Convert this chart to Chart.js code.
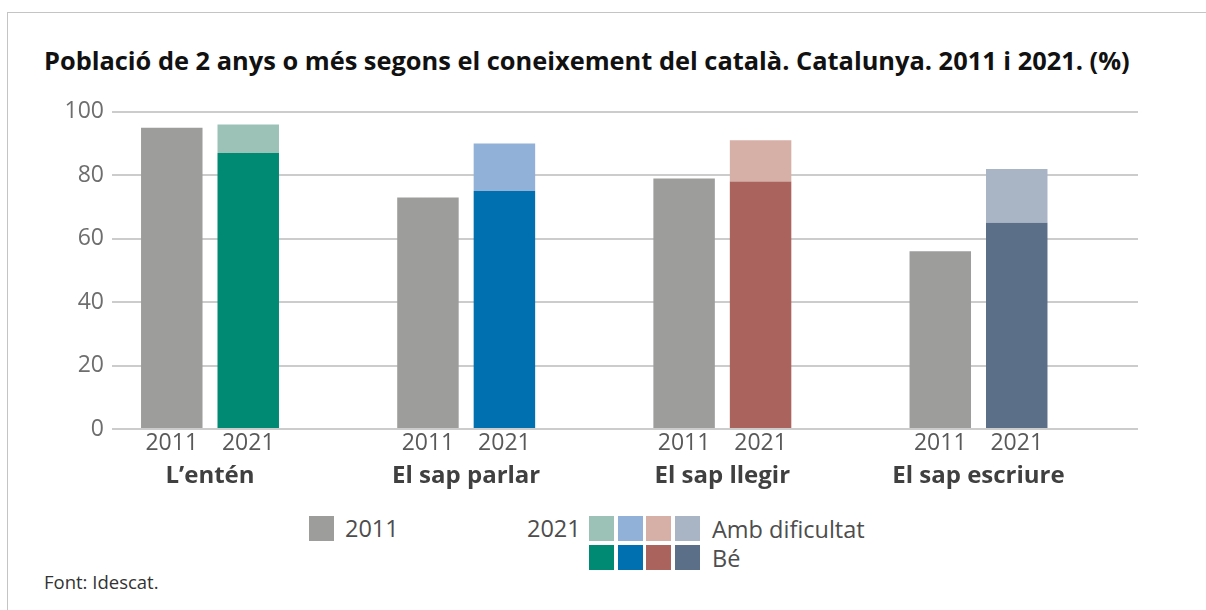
<!DOCTYPE html>
<html>
<head>
<meta charset="utf-8">
<script src="https://cdn.jsdelivr.net/npm/chart.js@4.4.1/dist/chart.umd.min.js"></script>
<style>
  body { margin: 0; background: #fff; font-family: "Open Sans", sans-serif; }
  .frame { position: absolute; left: 7px; top: 12px; right: 0; bottom: 0;
           border-top: 1px solid #c4c4c4; border-left: 1px solid #c4c4c4; }
  .title { position: absolute; left: 44px; top: 43px; font-size: 25.4px; font-weight: bold; color: #111; white-space: nowrap; }
  .wrap { position: absolute; left: 0; top: 90px; width: 1206px; height: 410px; }
  .sq { position: absolute; width: 25px; height: 25px; }
  .lt { position: absolute; font-size: 23.5px; color: #4d4d4d; line-height: 28px; white-space: nowrap; }
  .foot { position: absolute; left: 44px; top: 569px; font-size: 18.5px; color: #333; }
</style>
</head>
<body>
<div class="frame"></div>
<div class="title">Població de 2 anys o més segons el coneixement del català. Catalunya. 2011 i 2021. (%)</div>
<div class="wrap"><canvas id="chart" width="1206" height="410"></canvas></div>
<div id="legend"></div>
<div class="foot">Font: Idescat.</div>
<script>
// chart data
const categories = ['L’entén', 'El sap parlar', 'El sap llegir', 'El sap escriure'];
const years = ['2011', '2021'];
const values2011 = [95, 73, 79, 56];
const values2021Be = [87, 75, 78, 65];
const values2021Amb = [9, 15, 13, 17];
const yTicks = [0, 20, 40, 60, 80, 100];

// colours
const color2011 = '#9d9d9c';
const colorsBe = ['#008a74', '#0070b0', '#ab645d', '#5b6f88'];
const colorsAmb = ['#9cc2b7', '#92b1d8', '#d6afa7', '#a9b4c4'];

// x positions: categories on integers, years offset inside each group
const xMin = -0.3826;
const xMax = 3.6226;
const yearOffset = 0.1493;

const toPoints = vals => vals.map((v, i) => ({ x: i, y: v }));

const ctx = document.getElementById('chart').getContext('2d');
new Chart(ctx, {
    type: 'bar',
    data: {
        datasets: [
            { label: '2011', data: toPoints(values2011), stack: 's2011', backgroundColor: color2011 },
            { label: 'Bé', data: toPoints(values2021Be), stack: 's2021', backgroundColor: colorsBe },
            { label: 'Amb dificultat', data: toPoints(values2021Amb), stack: 's2021', backgroundColor: colorsAmb }
        ]
    },
    options: {
        responsive: false,
        animation: false,
        categoryPercentage: 0.597,
        barPercentage: 0.804,
        layout: { padding: { left: 0, right: 68, top: 19, bottom: 4 } },
        plugins: { legend: { display: false }, tooltip: { enabled: false } },
        scales: {
            x: {
                type: 'linear', position: 'bottom', weight: 1,
                offset: false, bounds: 'data',
                min: xMin, max: xMax,
                afterBuildTicks: scale => { scale.ticks = categories.map((c, i) => ({ value: i })); },
                afterFit: scale => { scale.height = 34; },
                grid: { display: false, drawTicks: false },
                border: { display: false },
                ticks: {
                    autoSkip: false, maxRotation: 0, padding: 0,
                    color: '#404040',
                    font: { family: 'Open Sans', size: 24, weight: 'bold' },
                    callback: (v, i) => categories[i]
                }
            },
            xYears: {
                type: 'linear', position: 'bottom', weight: 0,
                offset: false, bounds: 'data',
                min: xMin, max: xMax,
                afterBuildTicks: scale => {
                    const t = [];
                    categories.forEach((c, i) => {
                        t.push({ value: i - yearOffset });
                        t.push({ value: i + yearOffset });
                    });
                    scale.ticks = t;
                },
                afterFit: scale => { scale.height = 33; },
                grid: { display: false, drawTicks: false },
                border: { display: false },
                ticks: {
                    autoSkip: false, maxRotation: 0, padding: 1,
                    color: '#595959',
                    font: { family: 'Open Sans', size: 23 },
                    callback: (v, i) => years[i % 2]
                }
            },
            y: {
                stacked: true,
                min: 0, max: 100,
                afterBuildTicks: scale => { scale.ticks = yTicks.map(v => ({ value: v })); },
                afterFit: scale => { scale.width = 112; },
                grid: { color: '#cccccc', lineWidth: 2, drawTicks: false },
                border: { display: false },
                ticks: {
                    padding: 8,
                    color: '#6e6e6e',
                    font: { family: 'Open Sans', size: 23 }
                }
            }
        }
    }
});

// custom legend
const legend = document.getElementById('legend');
function square(x, y, color) {
    const d = document.createElement('div');
    d.className = 'sq';
    d.style.left = x + 'px';
    d.style.top = y + 'px';
    d.style.background = color;
    legend.appendChild(d);
}
function label(x, y, text) {
    const d = document.createElement('div');
    d.className = 'lt';
    d.style.left = x + 'px';
    d.style.top = y + 'px';
    d.textContent = text;
    legend.appendChild(d);
}
square(309, 516, color2011);
label(345, 514, years[0]);
label(527, 514, years[1]);
colorsAmb.forEach((c, i) => square(589 + i * 28.5, 516, c));
colorsBe.forEach((c, i) => square(589 + i * 28.5, 545, c));
label(712, 515, 'Amb dificultat');
label(712, 544, 'Bé');
</script>
</body>
</html>
